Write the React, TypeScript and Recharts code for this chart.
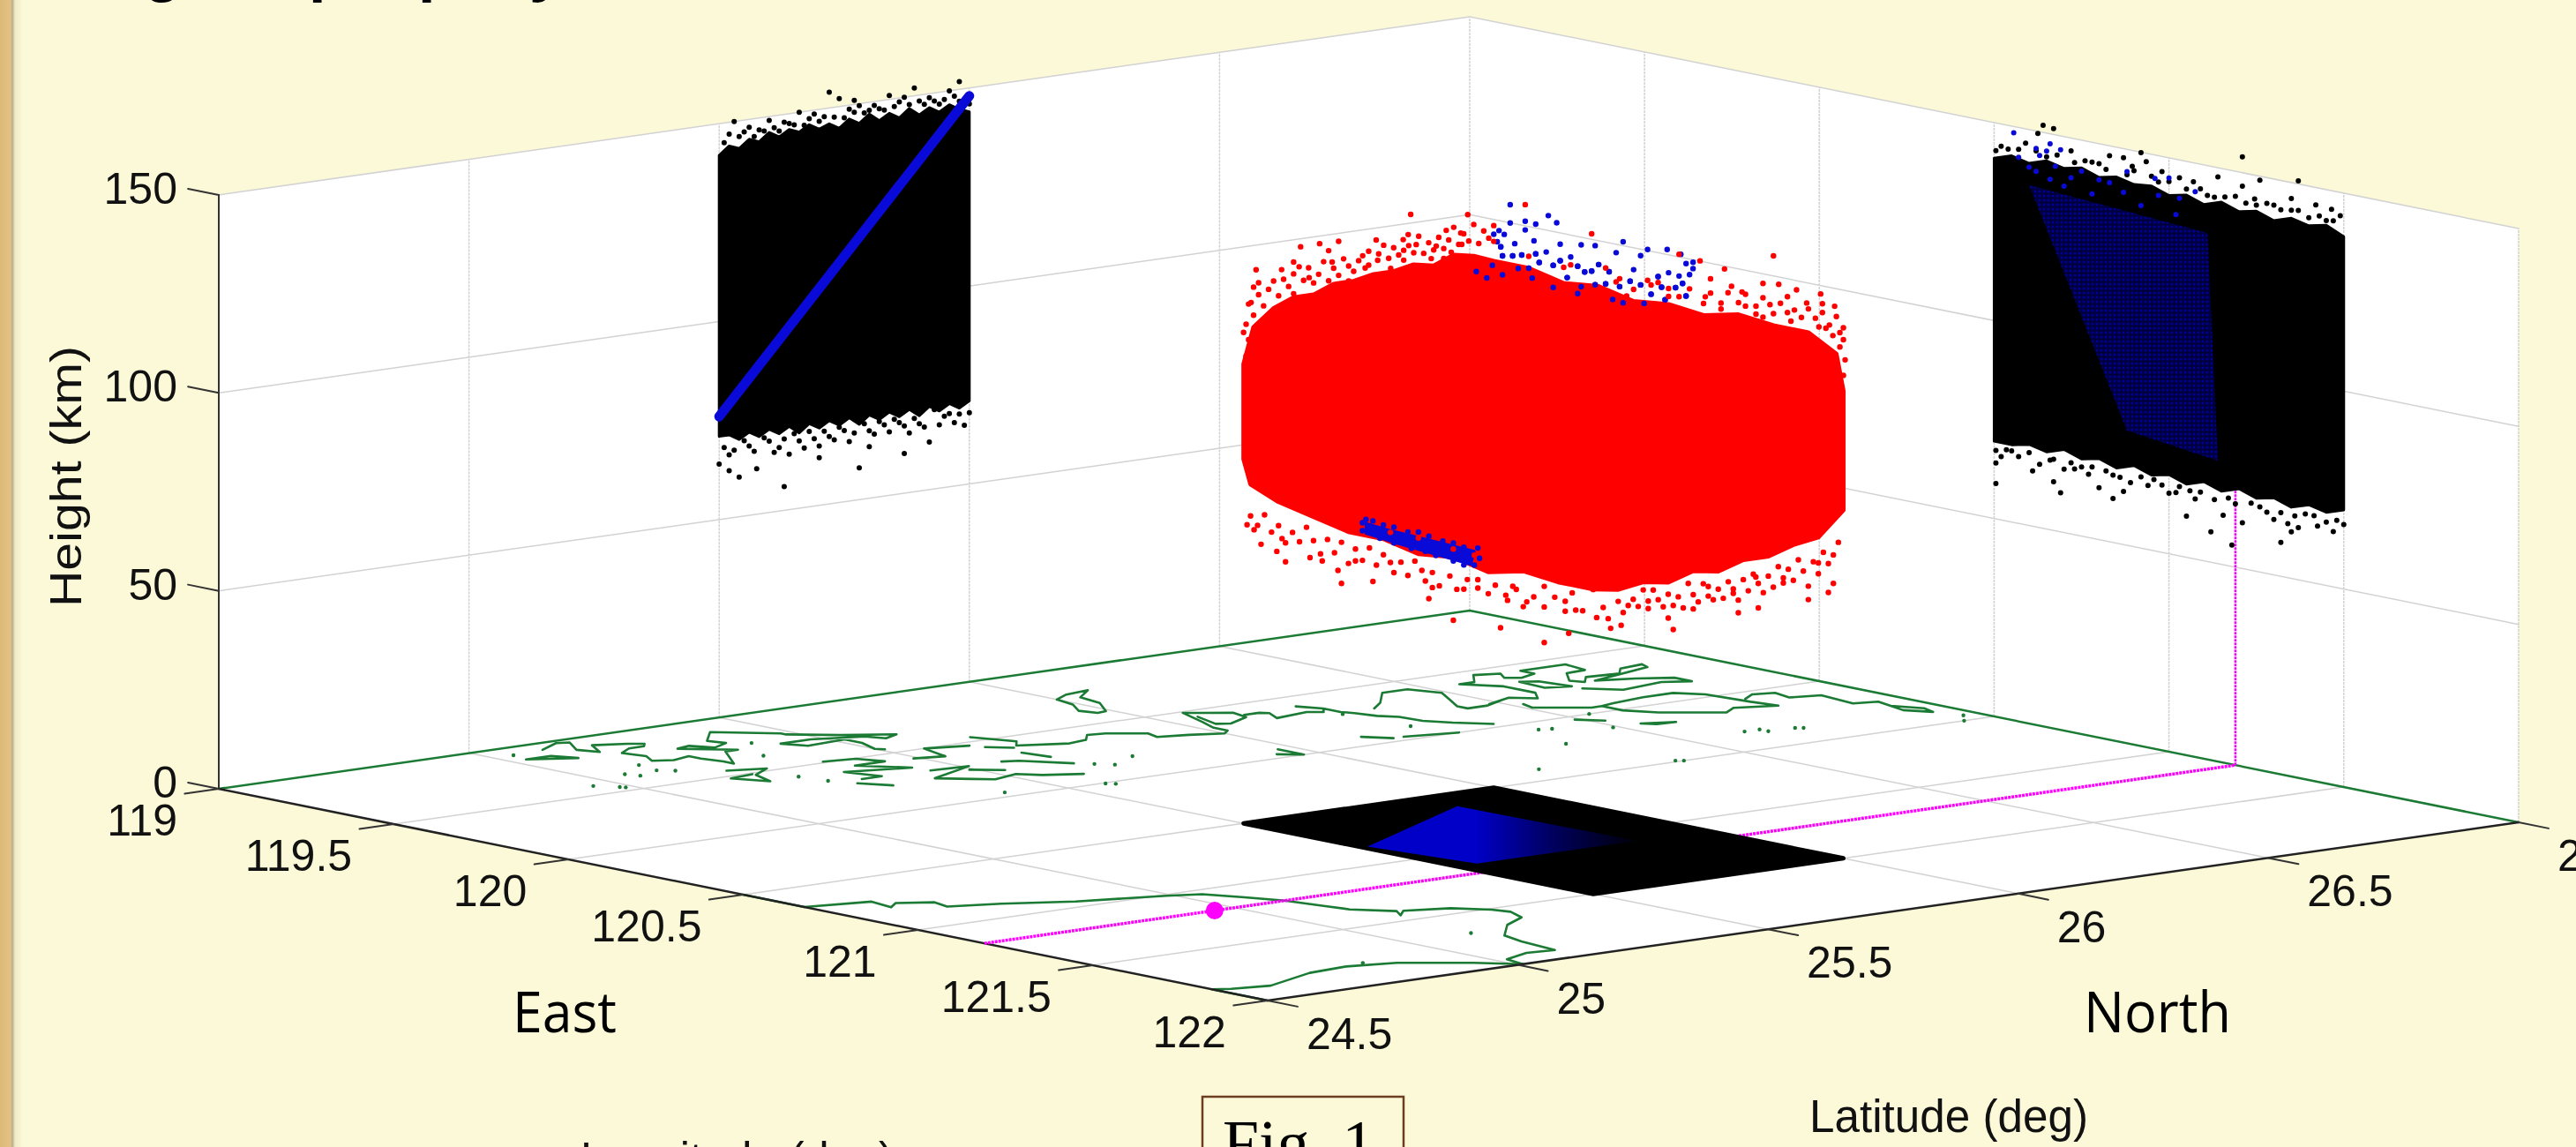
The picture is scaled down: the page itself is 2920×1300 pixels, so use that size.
import React from 'react';
import { ScatterChart, Scatter, XAxis, YAxis, Customized } from 'recharts';

type P = number[];

// ---- axis ticks ----
const lonTicks = [119, 119.5, 120, 120.5, 121, 121.5, 122];
const latTicks = [24.5, 25, 25.5, 26, 26.5, 27];
const heightTicks = [0, 50, 100, 150];

// ---- floor map: coast outlines [lon, lat] ----
const taiwanNorth: P[] = [[120.675,24.5],[120.71,24.61],[120.78,24.6],[120.75,24.63],[120.79,24.68],[120.84,24.67],[120.88,24.75],[120.95,24.85],[121.01,24.99],[121.04,25.04],[121.11,25.07],[121.19,25.1],[121.28,25.115],[121.34,25.125],[121.41,25.17],[121.45,25.15],[121.415,25.18],[121.45,25.25],[121.51,25.29],[121.55,25.3],[121.61,25.28],[121.655,25.22],[121.74,25.155],[121.81,25.14],[121.92,25.13],[121.91,25.08],[121.94,25.02],[122,25.01]];
const taiwanSouth: P[] = [[122,25.01],[121.93,24.96],[121.84,24.87],[121.81,24.79],[121.82,24.71],[121.88,24.59],[121.86,24.525],[121.84,24.5],[122,24.5]];
const frontEdgeCoast: P[] = [[120.5,24.5],[120.675,24.5]];
const islandLoop: P[] = [[119.25,26],[119.22,26.04],[119.21,26.09],[119.26,26.04],[119.33,26.03],[119.405,25.99],[119.41,25.97],[119.37,25.96],[119.31,25.99],[119.25,26]];
const fujianA: P[] = [[119.46,25.68],[119.55,25.71],[119.585,25.685],[119.63,25.76],[119.62,25.8],[119.58,25.83],[119.59,25.86],[119.64,25.91],[119.68,25.9],[119.7,25.95],[119.73,26],[119.71,26.02],[119.67,26.02],[119.61,26.04],[119.51,26.07],[119.53,26.09],[119.57,26.13],[119.62,26.12],[119.655,26.065],[119.64,26.045],[119.56,26.065]];
const fujianB: P[] = [[119.6,26.13],[119.6,26.16],[119.615,26.17],[119.665,26.15],[119.65,26.22],[119.67,26.24],[119.64,26.26],[119.59,26.24],[119.64,26.26],[119.69,26.26],[119.715,26.27],[119.765,26.28],[119.8,26.3],[119.86,26.305],[119.91,26.33],[119.97,26.37]];
const fujianC: P[] = [[119.7,26.32],[119.66,26.36],[119.58,26.42],[119.58,26.47],[119.65,26.49],[119.715,26.46],[119.78,26.43],[119.81,26.43],[119.81,26.47],[119.78,26.52],[119.8,26.48],[119.77,26.54],[119.81,26.57],[119.76,26.6],[119.67,26.6],[119.6,26.56],[119.6,26.59],[119.54,26.63],[119.56,26.67],[119.6,26.65],[119.62,26.67],[119.6,26.71],[119.56,26.71],[119.56,26.8],[119.63,26.79],[119.635,26.75],[119.7,26.71],[119.73,26.72],[119.69,26.75],[119.7,26.81],[119.66,26.84],[119.65,26.89],[119.68,26.88],[119.73,26.74],[119.76,26.8],[119.8,26.85],[119.85,26.85],[119.82,26.81],[119.84,26.72],[119.78,26.68]];
const fujianLoop: P[] = [[119.65,26.645],[119.67,26.67],[119.75,26.68],[119.73,26.64],[119.65,26.645]];
const fujianD: P[] = [[119.84,26.52],[119.88,26.51],[119.95,26.58],[119.95,26.6],[120.01,26.6],[120.07,26.63],[120.11,26.67],[120.15,26.71],[120.12,26.745],[120.155,26.81],[120.09,26.8],[119.975,26.79],[119.925,26.76],[119.925,26.7],[119.94,26.63],[119.95,26.6]];
const fujianE: P[] = [[120.06,26.81],[120.03,26.845],[120.045,26.88],[120.1,26.87],[120.12,26.92],[120.225,26.91],[120.24,26.95],[120.29,26.94],[120.35,26.965],[120.39,26.955],[120.34,26.93],[120.29,26.94]];
const stripA: P[] = [[120.03,26.49],[120.075,26.52]];
const stripB: P[] = [[120.14,26.545],[120.17,26.595],[120.165,26.56],[120.14,26.545]];
const stripC: P[] = [[119.92,26.14],[119.97,26.17]];
const stripD: P[] = [[119.97,26.19],[120,26.28]];
const stripE: P[] = [[119.925,25.97],[119.96,25.97],[120,25.97],[119.965,25.94],[120,25.97]];
const zhejA: P[] = [[119.12,25.03],[119.12,25.08],[119.17,25.1],[119.12,25.03]];
const zhejB: P[] = [[119.06,25.105],[119.02,25.16],[119.03,25.18],[119.1,25.145],[119.145,25.16],[119.08,25.19],[119.11,25.24],[119.13,25.26],[119.15,25.245],[119.15,25.215],[119.18,25.18],[119.235,25.19],[119.28,25.17],[119.3,25.2],[119.285,25.24],[119.32,25.24],[119.37,25.25],[119.4,25.25],[119.29,25.31],[119.29,25.335],[119.21,25.27],[119.2,25.3],[119.245,25.32],[119.22,25.36],[119.18,25.35],[119.11,25.405],[119.205,25.48],[119.22,25.48],[119.29,25.54],[119.35,25.61],[119.37,25.575],[119.33,25.56],[119.29,25.48],[119.29,25.42],[119.34,25.44],[119.33,25.52],[119.38,25.52],[119.445,25.5],[119.46,25.51]];
const zhejC: P[] = [[119.45,25.2],[119.48,25.26],[119.52,25.21],[119.59,25.19],[119.52,25.16],[119.51,25.21]];
const clusterA: P[] = [[119.49,25.365],[119.505,25.42],[119.56,25.44],[119.56,25.38],[119.645,25.435],[119.6,25.33],[119.68,25.35],[119.68,25.31]];
const clusterB: P[] = [[119.71,25.28],[119.77,25.31]];
const clusterC: P[] = [[119.57,25.49],[119.59,25.54],[119.5,25.56],[119.53,25.63]];
const clusterD: P[] = [[119.69,25.44],[119.7,25.51],[119.76,25.4],[119.81,25.44],[119.84,25.465],[119.82,25.52],[119.86,25.545],[119.9,25.6]];
const clusterE: P[] = [[119.73,25.49],[119.775,25.53]];
const clusterF: P[] = [[119.56,25.64],[119.6,25.67]];
const clusterG: P[] = [[119.65,25.65],[119.72,25.66]];
const clusterH: P[] = [[119.7,25.575],[119.715,25.6],[119.8,25.65]];
const coastLines: P[][] = [taiwanNorth, taiwanSouth, frontEdgeCoast, islandLoop, fujianA, fujianB, fujianC, fujianLoop, fujianD, fujianE, stripA, stripB, stripC, stripD, stripE, zhejA, zhejB, zhejC, clusterA, clusterB, clusterC, clusterD, clusterE, clusterF, clusterG, clusterH];
const isletDots: P[] = [[119.42,24.955],[119.46,24.98],[119.47,24.985],[119.36,25.06],[119.39,25.07],[119.365,25.12],[119.39,25.14],[119.3,25.13],[119.07,25.04],[119.25,25.39],[119.37,25.33],[119.585,25.25],[119.655,25.26],[119.81,25.76],[120.005,25.57],[120.02,25.58],[119.96,25.4],[119.86,25.69],[119.83,25.67],[119.89,26.26],[119.71,26.25],[120.49,26.37],[120.5,26.38],[120.36,26.7],[120.37,26.71],[120.33,26.65],[120.355,26.65],[120.22,26.34],[120.14,26.49],[120.4,26.16],[120.07,26.39],[120.08,26.41],[120.33,26.62],[120.455,26.97],[120.5,26.94],[120,26.54],[121.8,24.83],[121.68,25.13]];

// ---- magenta reference track ----
const trackLon = 121.19;
const trackLat = [24.5, 27];
const trackTopHeight = 75;
const stationLatLon: P = [121.19, 24.96];

// ---- cube limits ----
const boxLon = [120.5, 121.5];
const boxLat = [25.5, 26];

// ---- black projection on the lon=119 wall [lat, h] ----
const westBody: P[] = [[25.5,142],[25.52,144],[25.54,143],[25.56,145],[25.58,144],[25.6,146],[25.62,144.5],[25.64,146],[25.66,145],[25.68,146.5],[25.7,145],[25.72,146],[25.74,144.5],[25.76,146.5],[25.78,145],[25.8,147],[25.82,145],[25.84,146.5],[25.86,145],[25.88,147],[25.9,145],[25.92,146.5],[25.94,145],[25.96,146.5],[25.98,145],[26,144],[26,71],[25.98,69.5],[25.96,71],[25.94,69.5],[25.92,71],[25.9,69],[25.88,71],[25.86,69.5],[25.84,71],[25.82,69.5],[25.8,71],[25.78,69],[25.76,71],[25.74,69.5],[25.72,71],[25.7,69.5],[25.68,71],[25.66,69],[25.64,71],[25.62,69.5],[25.6,71],[25.58,69.5],[25.56,71],[25.54,69.5],[25.52,71],[25.5,71]];
const westFringe: P[] = [[25.53,150],[25.72,154],[25.74,152],[25.51,145],[25.52,147],[25.54,146],[25.56,148],[25.58,147],[25.57,145.5],[25.6,149],[25.61,147],[25.63,148],[25.62,146],[25.65,147],[25.67,146.5],[25.69,149],[25.7,147],[25.73,147.5],[25.75,147],[25.77,148],[25.79,147.5],[25.81,149],[25.83,147.5],[25.85,148],[25.87,150],[25.88,148],[25.9,148.5],[25.92,149],[25.94,147],[25.96,150],[25.98,147],[25.99,146],[25.77,151],[25.89,152],[26,146],[25.98,152],[25.84,151],[25.66,150],[25.55,147],[25.59,146.5],[25.64,147.5],[25.68,148],[25.71,148],[25.76,149],[25.78,149.5],[25.8,148],[25.82,148],[25.86,149],[25.91,147.5],[25.93,148],[25.95,148],[25.97,148.5],[25.63,56],[25.54,60],[25.52,62],[25.5,64],[25.575,61.5],[25.78,58],[25.64,64],[25.51,68],[25.53,67],[25.55,69],[25.57,66],[25.6,68],[25.62,66],[25.66,67],[25.68,69],[25.7,65],[25.72,67],[25.74,69],[25.76,65],[25.8,67],[25.82,69],[25.84,66],[25.86,68],[25.88,65],[25.9,67],[25.92,62],[25.95,68],[25.97,66],[25.99,65],[25.8,63],[25.87,60],[26,68],[25.93,70],[25.7,62],[25.52,66],[25.56,67.5],[25.59,69],[25.61,65],[25.63,68],[25.65,69],[25.67,65],[25.69,67],[25.71,68.5],[25.73,66],[25.75,68],[25.77,67],[25.79,69],[25.81,66],[25.83,68],[25.85,69],[25.87,67],[25.89,68.5],[25.91,66],[25.94,66],[25.96,68.5],[25.98,68]];
const westBlueLine: P[] = [[25.5,76],[26,148]];

// ---- black projection on the lat=27 wall [lon, h] ----
const northBody: P[] = [[120.5,141],[120.55,142.5],[120.6,141.5],[120.65,143],[120.7,142],[120.75,143],[120.8,141.5],[120.85,142.5],[120.9,141.5],[120.95,142],[121,140.5],[121.05,141.5],[121.1,140],[121.15,141.5],[121.2,140],[121.25,141],[121.3,139.5],[121.35,141],[121.4,140],[121.45,141],[121.5,139],[121.5,70],[121.45,68.5],[121.4,69.5],[121.35,68],[121.3,69.5],[121.25,68.5],[121.2,70],[121.15,68.5],[121.1,70],[121.05,68.5],[121,70],[120.95,69],[120.9,70.5],[120.85,69],[120.8,70.5],[120.75,69.5],[120.7,71],[120.65,69.5],[120.6,70.5],[120.55,69.5],[120.5,69.5]];
const northFringe: P[] = [[120.64,151.8],[120.67,151.5],[120.625,149.5],[120.92,149.9],[121.21,154],[121.37,150.8],[121.26,149],[121.14,147.7],[121.21,146.6],[120.52,144.4],[120.59,146.4],[120.72,146.8],[120.83,147.5],[120.87,147.7],[120.78,145],[120.935,147.9],[120.895,146],[120.98,146.2],[121.03,145.5],[121.07,145.2],[121.19,143.7],[121.245,144],[121.35,146],[121.3,143.4],[121.42,145.6],[121.465,145.3],[121.49,144.1],[121.37,143.3],[121.09,143.8],[121.13,142.4],[121.45,142.2],[120.505,143],[120.54,144],[120.65,144],[120.73,144],[120.82,143.9],[120.88,143.6],[120.97,143.4],[121.22,142.5],[121.32,142.6],[121.4,142],[120.57,144.5],[120.62,145],[120.68,145],[120.76,145],[120.8,145],[120.9,145],[120.95,144.5],[121,144],[121.05,143],[121.11,142.5],[121.16,143],[121.25,142.5],[121.28,143.5],[121.35,143],[121.43,143],[121.47,142.5],[120.505,58.9],[120.505,64.1],[120.505,67.3],[120.61,64],[120.69,59.9],[120.67,62.3],[120.8,63.1],[120.84,61.1],[120.87,63.4],[120.94,66.2],[121,65.3],[121.05,60.4],[121.075,65.2],[121.12,57.7],[121.18,55.4],[121.32,58.6],[121.21,61.6],[121.155,62.5],[121.34,63.7],[121.35,61.8],[121.37,63.2],[121.425,64.6],[121.5,66.3],[121.48,67],[121.39,67],[121.28,65.5],[121.235,67],[120.57,66.9],[120.66,67.6],[120.73,66.6],[120.77,66],[120.86,66.8],[120.92,68],[120.535,68],[120.6,68.4],[120.67,68],[120.72,68],[120.82,67.7],[120.957,68],[121.03,67.5],[121.09,67.2],[121.17,67.1],[121.32,66.1],[121.415,67],[120.52,66],[120.55,68],[120.63,66],[120.7,66],[120.75,67.5],[120.78,68],[120.84,67],[120.89,66],[120.98,67],[121.02,65.8],[121.06,67],[121.13,66],[121.19,66],[121.26,66.5],[121.3,64],[121.36,66],[121.45,66],[121.47,64]];
const northBluePlane: P[] = [[120.6,136],[121.11,133],[121.14,76],[120.88,79]];
const northBlueDots: P[] = [[120.556,148.4],[120.62,145.6],[120.66,147.5],[120.69,146.5],[120.65,145.5],[120.63,144],[120.57,142.5],[120.675,142.1],[120.75,142.2],[120.8,140.9],[120.88,144.4],[120.96,144.1],[121,144.9],[121.075,142.8],[120.87,139],[120.7,137.5],[120.83,140.7],[120.97,140],[120.62,139.8],[120.6,140.5],[121.03,140.3],[120.78,137],[120.92,136.5],[121.02,136],[120.66,138.5],[120.72,140]];

// ---- floor shadow of the blue subset [lon, lat] ----
const floorBlue: P[] = [[120.61,25.85],[120.84,25.51],[121.11,25.54],[121.11,25.86]];

// ---- red cloud silhouette [lon, lat, h] ----
const redOutline: P[] = [[120.5,25.5,116],[120.5,25.52,125],[120.5,25.56,129],[120.5,25.6,131],[120.5,25.64,131],[120.5,25.68,133],[120.5,25.72,133],[120.5,25.76,134],[120.5,25.8,134],[120.5,25.84,135],[120.5,25.88,134],[120.5,25.92,136],[120.5,25.96,135],[120.5,26,133],[120.6,26,133],[120.7,26,131],[120.8,26,132],[120.9,26,130],[121,26,131],[121.1,26,130],[121.2,26,132],[121.3,26,131],[121.4,26,131],[121.48,26,127],[121.5,26,118],[121.5,26,88],[121.5,25.95,82],[121.5,25.9,81],[121.5,25.85,79],[121.5,25.8,79],[121.5,25.75,77],[121.5,25.7,78],[121.5,25.65,76],[121.5,25.6,77],[121.5,25.55,76],[121.5,25.5,77],[121.4,25.5,77],[121.3,25.5,78],[121.2,25.5,76],[121.1,25.5,78],[121,25.5,77],[120.9,25.5,79],[120.8,25.5,79],[120.7,25.5,81],[120.6,25.5,83],[120.52,25.5,86],[120.5,25.5,92]];
const redWest: P[] = [[25.525,139.4],[25.576,138.5],[25.611,138.6],[25.614,143.6],[25.652,143.7],[25.67,141.6],[25.69,143.6],[25.738,139.1],[25.765,142.6],[25.768,137.4],[25.834,147.8],[25.829,142.8],[25.905,142.5],[25.934,141.3],[25.948,145.7],[25.845,140],[25.885,138.9],[25.819,141.7],[25.936,138.4],[25.52,135.1],[25.515,131.3],[25.56,135.9],[25.631,135.5],[25.677,138.6],[25.743,135.9],[25.794,134.9],[25.875,135.9],[25.915,136.8],[25.6,132],[25.66,131.7],[25.71,133.2],[25.855,133],[25.51,131],[25.53,133],[25.54,130],[25.55,134],[25.57,132],[25.58,136],[25.59,134],[25.6,137],[25.62,135],[25.63,138],[25.64,134],[25.65,136],[25.66,139],[25.68,137],[25.69,135],[25.7,139],[25.71,137],[25.72,135.5],[25.73,138],[25.75,136.5],[25.75,140],[25.77,139],[25.78,141],[25.79,137.5],[25.8,140],[25.81,138],[25.82,136.5],[25.83,140],[25.84,138],[25.85,142],[25.86,137.5],[25.87,140],[25.88,138],[25.89,141],[25.9,138],[25.91,140],[25.92,143],[25.93,138.5],[25.94,141],[25.95,139],[25.96,143],[25.97,138],[25.98,141],[25.99,139],[26,142],[26,138],[25.53,136],[25.6,140],[25.67,134],[25.74,133],[25.82,139],[25.9,135.5],[25.505,126],[25.51,122],[25.505,118],[25.5,124],[25.52,128]];
const redNorth: P[] = [[120.59,148.9],[120.78,144.9],[121.3,148.6],[121.16,142.8],[121.09,143.6],[121.12,139.6],[121.03,144.2],[121.435,141.4],[121.475,139],[121.366,141.2],[121.315,141.7],[121.27,141.1],[121.21,137.9],[121.18,138.8],[121.395,138.4],[121.29,136.1],[121.105,134.8],[121.49,132.6],[121.45,133],[121.44,136.8],[121.34,135],[121.22,134.5],[121.27,132.6],[120.6,132],[120.72,136],[120.86,135],[120.97,136],[120.85,134],[120.9,133],[120.95,135],[121,135],[121.03,133.5],[121.06,136],[121.1,133],[121.12,136],[121.15,134],[121.17,137],[121.2,135],[121.22,137.5],[121.25,135],[121.27,137.5],[121.3,134],[121.32,137],[121.34,139],[121.36,136],[121.38,134.5],[121.4,137],[121.42,135],[121.44,139],[121.46,134],[121.48,136.5],[121.5,131],[121.5,134],[121.49,129],[121.47,131.5],[121.43,133],[121.35,133],[121.25,133],[121.15,132.5],[121.505,126],[121.5,122]];
const redEast: P[] = [[25.66,63.9],[25.65,67],[25.79,65.8],[25.83,66.3],[25.93,66.6],[25.97,67.7],[25.98,69.8],[25.78,70.9],[25.7,68.4],[25.73,71.1],[25.61,70.1],[25.57,71.6],[25.88,71.7],[25.825,74.2],[25.95,72.8],[25.72,74.4],[25.62,74.6],[25.99,80],[25.98,77],[25.97,75],[25.96,78],[25.95,75.5],[25.94,76],[25.93,70],[25.92,74],[25.91,77],[25.9,72],[25.89,75],[25.88,73],[25.87,76],[25.86,71],[25.85,74],[25.84,70],[25.83,72.5],[25.82,75],[25.81,71],[25.8,74],[25.79,69],[25.78,72],[25.77,74],[25.76,70],[25.75,72.5],[25.74,70],[25.73,73.5],[25.71,70],[25.7,72],[25.69,75],[25.68,69],[25.67,72],[25.66,70],[25.65,73],[25.64,70],[25.63,72],[25.61,72],[25.6,75],[25.59,71],[25.58,73],[25.56,70],[25.55,73],[25.53,69],[25.52,72]];
const redSouth: P[] = [[121.36,61],[121.43,64.6],[121.1,62],[121.235,62.5],[121.55,68],[121.58,69.3],[121.51,70],[120.78,65.6],[120.87,67.7],[121.03,66.2],[121.04,69.2],[120.55,71.4],[120.62,68.2],[120.595,70.4],[120.69,70.5],[120.725,70.3],[120.77,68.7],[120.51,75.6],[120.53,74.7],[120.61,73.9],[120.82,72],[120.92,73.4],[121.01,73],[121.13,70.4],[121.17,71.4],[121.255,69.8],[121.31,70.4],[121.42,70],[121.45,70.8],[121.36,75.2],[121.27,73.6],[121.5,76.9],[120.52,78],[120.54,76],[120.56,79],[120.58,75],[120.6,77],[120.62,73],[120.64,76],[120.66,74],[120.68,78],[120.7,75],[120.72,72],[120.74,76],[120.76,73],[120.78,76],[120.8,71],[120.82,75],[120.84,72.5],[120.86,76],[120.88,72],[120.9,75],[120.93,71],[120.95,74],[120.97,71],[120.99,75],[121.02,70.5],[121.04,73],[121.06,70],[121.09,73],[121.11,70],[121.14,73],[121.17,73.5],[121.2,70.5],[121.22,73],[121.25,71],[121.28,73],[121.3,69],[121.33,72],[121.36,70],[121.39,73],[121.42,72.5],[121.44,75],[121.47,71]];

// ---- blue subset seen at the rim of the cloud ----
const blueTop: P[] = [[120.547,148.1],[120.656,147.3],[120.59,144.7],[120.547,143.5],[120.62,144.5],[120.68,145.9],[120.515,141],[120.5,139.8],[120.53,140.3],[120.59,142.5],[120.51,138.1],[120.87,144.5],[120.615,140.2],[120.69,140.7],[120.75,141.6],[120.79,142.1],[120.85,141.4],[120.996,144.8],[120.94,143.8],[120.92,141.9],[121.035,144.3],[121.07,142.9],[121.05,142.2],[121.07,141.3],[121.06,139.6],[121.03,138.7],[120.525,134.8],[120.554,135.3],[120.496,131.9],[120.45,129.5],[120.57,132.4],[120.63,135],[120.67,135],[120.71,132.6],[120.76,134.9],[120.79,132.2],[120.83,136.2],[120.84,129.4],[120.89,134.9],[120.95,132.7],[120.99,132],[121.02,135.6],[120.61,130.7],[120.525,130],[120.74,129.1],[120.67,129.4],[120.87,129.1],[120.48,128.4],[120.58,136],[120.65,138],[120.72,138],[120.8,137.5],[120.9,138],[120.97,137.5],[121.0,139],[120.6,133],[120.75,131],[120.82,133],[120.93,130],[120.52,137],[120.56,138.5],[120.62,137],[120.69,136.5],[120.74,136],[120.78,135.5],[120.86,133],[120.92,134.5],[120.98,135],[121.04,137],[121.05,134]];
const blueBottomBand: P[] = [[120.85,82],[120.91,81.5],[121.04,81],[121.16,80.5],[121.15,77],[121.08,77.5],[120.95,78.5],[120.85,79.5]];
const blueBottomDots: P[] = [[120.84,82],[120.85,83],[120.87,83],[120.9,82.5],[120.93,82.5],[120.97,82],[121,82.5],[121.03,82],[121.07,81.5],[121.1,81.5],[121.13,81],[121.17,81.5],[121.175,79],[121.16,77],[121.13,76.5],[121.1,77],[121.05,77.5],[121.02,78],[120.98,78],[120.93,78.5],[120.89,79],[120.84,80]];
const redSpeckOnBlue: P[] = [[120.64,131],[120.7,135],[120.76,130],[120.82,137],[120.88,131],[120.94,136],[121,133],[120.55,130],[120.6,136],[121.0,81],[121.1,80],[120.92,81],[121.16,79.5]];

// ---- view geometry of the orthographic axes box ----
const ORIGIN = { x: 248, y: 894 };
const LON_STEP = { x: 396.3, y: 80 };
const LAT_STEP = { x: 567.2, y: -80.8 };
const H_STEP = 4.487;
const project = (lon: number, lat: number, h = 0) => ({
  x: ORIGIN.x + (lon - 119) * LON_STEP.x + (lat - 24.5) * LAT_STEP.x,
  y: ORIGIN.y + (lon - 119) * LON_STEP.y + (lat - 24.5) * LAT_STEP.y - h * H_STEP,
});
const LON0 = lonTicks[0], LON1 = lonTicks[lonTicks.length - 1];
const LAT0 = latTicks[0], LAT1 = latTicks[latTicks.length - 1];
const H1 = heightTicks[heightTicks.length - 1];

const noMark = () => <g />;
let seq = 0;
const line = (pts: { x: number; y: number }[], stroke: string, strokeWidth: number, dash?: string) => (
  <Scatter key={`l${seq++}`} data={pts} isAnimationActive={false} shape={noMark}
    line={(p: any) => (
      <polyline points={p.points.map((q: any) => `${q.x},${q.y}`).join(' ')} fill="none" stroke={stroke}
        strokeWidth={strokeWidth} strokeDasharray={dash} strokeLinejoin="round" strokeLinecap={dash ? undefined : 'round'} />
    )} />
);
const poly = (pts: { x: number; y: number }[], fill: string, stroke = 'none', strokeWidth = 0, defs?: React.ReactNode) => (
  <Scatter key={`p${seq++}`} data={pts} isAnimationActive={false} shape={noMark}
    line={(p: any) => (
      <g>
        {defs}
        <polygon points={p.points.map((q: any) => `${q.x},${q.y}`).join(' ')} fill={fill} stroke={stroke} strokeWidth={strokeWidth} strokeLinejoin="round" />
      </g>
    )} />
);
const dots = (pts: { x: number; y: number }[], fill: string, r: number) => (
  <Scatter key={`d${seq++}`} data={pts} isAnimationActive={false}
    shape={(p: any) => <circle cx={p.cx} cy={p.cy} r={r} fill={fill} />} />
);
const labels = (pts: { x: number; y: number; text: string }[], dx: number, dy: number, anchor: string) => (
  <Scatter key={`t${seq++}`} data={pts} isAnimationActive={false}
    shape={(p: any) => (
      <text x={p.cx + dx} y={p.cy + dy} textAnchor={anchor} fontFamily="'Liberation Sans'" fontSize={50} fill="#111">
        {p.payload.text}
      </text>
    )} />
);

const GRID = '#d2d2d2';
const GREEN = '#1b7a33';
const BLUE = '#0a0ad8';

const Titles = () => (
  <g>
    <text fontFamily="'Liberation Sans'" fontWeight={700} fontSize={70} x={163} y={-12}>g</text>
    <text fontFamily="'Liberation Sans'" fontWeight={700} fontSize={70} x={350} y={-12}>p</text>
    <text fontFamily="'Liberation Sans'" fontWeight={700} fontSize={70} x={474} y={-12}>p</text>
    <text fontFamily="'Liberation Sans'" fontWeight={700} fontSize={70} x={600} y={-12}>y</text>
    <text fontFamily="'Liberation Sans'" fontSize={50} fill="#111" textAnchor="middle" textLength={296} lengthAdjust="spacingAndGlyphs"
      transform="translate(92,540) rotate(-90)">Height (km)</text>
    <text fontFamily="'Liberation Sans'" fontSize={51} fill="#111" x={2051} y={1283} textLength={316} lengthAdjust="spacingAndGlyphs">Latitude (deg)</text>
    <text fontFamily="'Liberation Sans'" fontSize={51} fill="#111" x={658} y={1331} textLength={355} lengthAdjust="spacingAndGlyphs">Longitude (deg)</text>
    <text fontFamily="'Open Sans'" fontSize={64} fill="#000" x={581} y={1170} textLength={118} lengthAdjust="spacingAndGlyphs">East</text>
    <text fontFamily="'Open Sans'" fontSize={64} fill="#000" x={2362} y={1170} textLength={167} lengthAdjust="spacingAndGlyphs">North</text>
    <rect x={1363} y={1243} width={228} height={80} fill="#FBF9D8" stroke="#6b3f1f" strokeWidth={2.5} />
    <text fontFamily="'Liberation Serif'" fontSize={74} fill="#000" x={1386} y={1321} textLength={172} lengthAdjust="spacingAndGlyphs">Fig. 1</text>
  </g>
);

export default function App() {
  seq = 0;
  const [lonA, lonB] = boxLon;
  const [latA, latB] = boxLat;
  return (
    <div style={{ position: 'absolute', left: 0, top: 0, width: 2920, height: 1300, overflow: 'hidden',
      background: 'linear-gradient(90deg,#dcb977 0,#e2c283 12px,#b9ad8a 14px,#efeac6 17px,#FBF9D8 26px)' }}>
      <ScatterChart width={2920} height={1300} margin={{ top: 0, right: 0, bottom: 0, left: 0 }}>
        <XAxis type="number" dataKey="x" domain={[0, 2920]} hide />
        <YAxis type="number" dataKey="y" domain={[0, 1300]} reversed hide />

        {/* walls and floor */}
        {poly([project(LON0, LAT0, 0), project(LON0, LAT1, 0), project(LON0, LAT1, H1), project(LON0, LAT0, H1)], '#fff')}
        {poly([project(LON0, LAT1, 0), project(LON1, LAT1, 0), project(LON1, LAT1, H1), project(LON0, LAT1, H1)], '#fff')}
        {poly([project(LON0, LAT0), project(LON1, LAT0), project(LON1, LAT1), project(LON0, LAT1)], '#fff')}

        {/* grid */}
        {latTicks.slice(1).map((lat) => line([project(LON0, lat, 0), project(LON0, lat, H1)], GRID, 1.5, '3 1'))}
        {lonTicks.slice(1).map((lon) => line([project(lon, LAT1, 0), project(lon, LAT1, H1)], GRID, 1.5, '3 1'))}
        {heightTicks.slice(1).map((h) => line([project(LON0, LAT0, h), project(LON0, LAT1, h), project(LON1, LAT1, h)], GRID, 1.5))}
        {latTicks.slice(1, -1).map((lat) => line([project(LON0, lat), project(LON1, lat)], GRID, 1.5))}
        {lonTicks.slice(1, -1).map((lon) => line([project(lon, LAT0), project(lon, LAT1)], GRID, 1.5))}

        {/* map */}
        {line([project(LON0, LAT0), project(LON0, LAT1), project(LON1, LAT1)], GREEN, 2.5)}
        {coastLines.map((c) => line(c.map(([lon, lat]) => project(lon, lat)), GREEN, 2.6))}
        {dots(isletDots.map(([lon, lat]) => project(lon, lat)), GREEN, 2.2)}

        {/* axes */}
        {line([project(LON0, LAT0, 0), project(LON0, LAT0, H1)], '#333', 2)}
        {line([project(LON0, LAT0), project(LON1, LAT0), project(LON1, LAT1)], '#222', 2.5)}
        {lonTicks.map((lon) => line([project(lon, LAT0), project(lon, LAT0 - 0.068)], '#333', 2))}
        {latTicks.map((lat) => line([project(LON1, lat), project(LON1 + 0.086, lat)], '#333', 2))}
        {heightTicks.map((h) => line([project(LON0, LAT0, h), project(LON0 - 0.088, LAT0, h)], '#333', 2))}
        {labels(lonTicks.map((lon) => ({ ...project(lon, LAT0), text: String(lon) })), -47, 53, 'end')}
        {labels(latTicks.map((lat) => ({ ...project(LON1, lat), text: String(lat) })), 44, 55, 'start')}
        {labels(heightTicks.map((h) => ({ ...project(LON0, LAT0, h), text: String(h) })), -47, 10, 'end')}

        {/* magenta track */}
        {line(trackLat.map((lat) => project(trackLon, lat)), '#ff00ff', 3.5, '3 1')}
        {line([project(trackLon, LAT1, 0), project(trackLon, LAT1, trackTopHeight)], '#ff00ff', 2.5, '3 1')}
        {dots([project(stationLatLon[0], stationLatLon[1])], '#ff00ff', 10)}

        {/* floor shadow */}
        {poly([project(lonA, latA), project(lonB, latA), project(lonB, latB), project(lonA, latB)], '#000', '#000', 5)}
        {poly(floorBlue.map(([lon, lat]) => project(lon, lat)), 'url(#floorFade)', 'none', 0,
          <defs>
            <linearGradient id="floorFade" x1="0" y1="0.5" x2="1" y2="0.5">
              <stop offset="0" stopColor="#0000c8" />
              <stop offset="0.4" stopColor="#0000c8" />
              <stop offset="0.7" stopColor="#00005a" />
              <stop offset="1" stopColor="#000008" />
            </linearGradient>
          </defs>)}

        {/* west wall */}
        {poly(westBody.map(([lat, h]) => project(LON0, lat, h)), '#000', '#000', 3)}
        {dots(westFringe.map(([lat, h]) => project(LON0, lat, h)), '#000', 3)}
        {line(westBlueLine.map(([lat, h]) => project(LON0, lat, h)), BLUE, 11)}

        {/* north wall */}
        {poly(northBody.map(([lon, h]) => project(lon, LAT1, h)), '#000', '#000', 3)}
        {dots(northFringe.map(([lon, h]) => project(lon, LAT1, h)), '#000', 3)}
        {poly(northBluePlane.map(([lon, h]) => project(lon, LAT1, h)), 'url(#speck)', 'none', 0,
          <defs>
            <pattern id="speck" width={5} height={5} patternUnits="userSpaceOnUse">
              <rect width={5} height={5} fill="#00003c" />
              <circle cx={2} cy={2} r={1.5} fill="#000098" />
            </pattern>
          </defs>)}
        {dots(northBlueDots.map(([lon, h]) => project(lon, LAT1, h)), BLUE, 3)}

        {/* cloud */}
        {dots(blueTop.map(([lon, h]) => project(lon, latB, h)), BLUE, 3.2)}
        {poly(redOutline.map(([lon, lat, h]) => project(lon, lat, h)), '#ff0000', '#ff0000', 5)}
        {dots(redWest.map(([lat, h]) => project(lonA, lat, h)), '#ff0000', 3.2)}
        {dots(redNorth.map(([lon, h]) => project(lon, latB, h)), '#ff0000', 3.2)}
        {dots(redEast.map(([lat, h]) => project(lonB, lat, h)), '#ff0000', 3.2)}
        {dots(redSouth.map(([lon, h]) => project(lon, latA, h)), '#ff0000', 3.2)}
        {dots(blueTop.filter(([, h]) => h < 138).map(([lon, h]) => project(lon, latB, h)), BLUE, 3.2)}
        {poly(blueBottomBand.map(([lon, h]) => project(lon, latA, h)), BLUE, BLUE, 3)}
        {dots(blueBottomDots.map(([lon, h]) => project(lon, latA, h)), BLUE, 3.2)}
        {dots(redSpeckOnBlue.map(([lon, h]) => project(lon, h > 100 ? latB : latA, h)), '#ff0000', 3.2)}

        <Customized component={Titles} />
      </ScatterChart>
    </div>
  );
}
